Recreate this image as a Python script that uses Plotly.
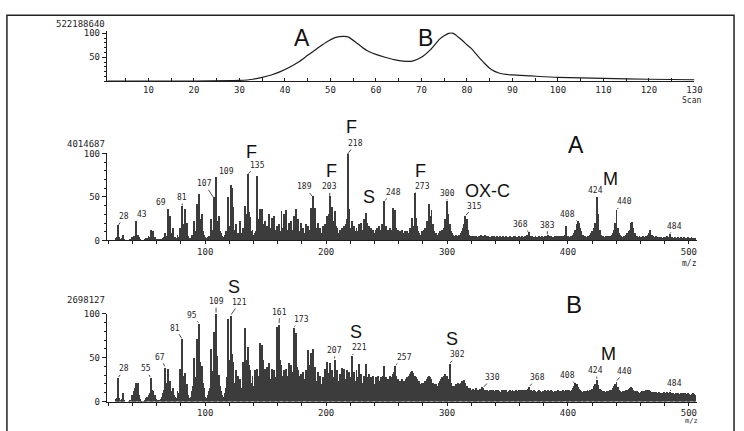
import plotly.graph_objects as go

W, H = 744, 431

# ---------------- data ----------------
# Total ion chromatogram (relative %, scan number)
TIC_SCAN = [1, 10, 20, 28, 30, 33, 35, 37, 39, 41, 43, 45, 47, 49, 51, 52, 53, 54, 56, 58,
            60, 62, 64, 66, 68, 70, 72, 74, 75, 76, 77, 78, 79, 80, 81, 82, 83, 84, 85, 86,
            87, 88, 90, 94, 100, 110, 120, 130]
TIC_REL = [0, 0, 0.3, 1, 1.5, 4, 8, 13, 20, 29, 40, 54, 68, 81, 91, 93, 93.5, 92, 78, 64,
           56, 50, 45, 42, 42, 50, 66, 88, 95, 100, 100, 93, 85, 76, 68, 57, 46, 36, 27, 21,
           17, 15, 13, 11, 8, 6, 4, 3]

MZ_FIRST = 20  # first m/z of the intensity lists below (unit steps)

# Spectrum A (relative intensity, m/z 20 ... 505)
SPEC_A = [
    0, 0, 0, 0, 0, 0, 2, 3, 17, 3,        # 20
    1, 2, 6, 1, 0, 0, 0, 0, 1, 3,         # 30
    2, 5, 4, 22, 6, 3, 1, 0, 0, 0,        # 40
    1, 2, 2, 4, 3, 11, 6, 10, 3, 1,       # 50
    1, 1, 1, 1, 1, 2, 3, 8, 5, 36,        # 60
    9, 27, 8, 14, 3, 3, 2, 6, 3, 14,      # 70
    6, 39, 18, 36, 10, 20, 5, 2, 1, 6,    # 80
    3, 22, 10, 41, 12, 53, 24, 30, 10, 6, # 90
    3, 2, 3, 5, 4, 24, 12, 49, 48, 72,    # 100
    22, 28, 10, 8, 5, 3, 6, 10, 8, 49,    # 110
    16, 63, 60, 38, 12, 18, 6, 8, 5, 22,  # 120
    8, 14, 10, 39, 30, 76, 32, 26, 10, 12,   # 130
    6, 8, 10, 74, 24, 36, 30, 36, 18, 22,    # 140
    12, 16, 10, 30, 14, 25, 10, 28, 12, 16,  # 150
    10, 18, 10, 33, 14, 30, 12, 34, 12, 20,  # 160
    10, 22, 12, 28, 12, 36, 14, 24, 10, 20,  # 170
    8, 14, 8, 18, 10, 16, 12, 37, 24, 50,    # 180
    18, 37, 14, 20, 10, 14, 8, 16, 12, 18,   # 190
    10, 28, 30, 50, 26, 38, 22, 33, 16, 14,  # 200
    8, 12, 8, 14, 10, 16, 18, 24, 100, 36,   # 210
    14, 22, 12, 16, 10, 14, 10, 18, 12, 20,  # 220
    12, 24, 16, 31, 20, 16, 10, 14, 8, 12,   # 230
    8, 12, 14, 10, 16, 12, 18, 14, 45, 16,   # 240
    10, 12, 8, 14, 12, 37, 16, 35, 14, 12,   # 250
    8, 10, 6, 12, 8, 10, 6, 10, 8, 14,       # 260
    10, 25, 16, 54, 25, 16, 10, 8, 6, 10,    # 270
    8, 12, 14, 22, 18, 41, 28, 35, 18, 10,   # 280
    6, 8, 6, 8, 10, 8, 12, 14, 24, 18,       # 290
    45, 30, 18, 10, 8, 6, 5, 6, 4, 5,        # 300
    6, 8, 10, 14, 18, 28, 24, 12, 6, 5,      # 310
    4, 4, 5, 4, 4, 3, 4, 5, 6, 5,            # 320
    4, 6, 4, 3, 4, 3, 3, 4, 3, 4,            # 330
    3, 4, 3, 3, 4, 3, 4, 3, 3, 4,            # 340
    3, 3, 4, 3, 3, 4, 5, 3, 3, 4,            # 350
    3, 3, 4, 3, 4, 5, 6, 4, 9, 5,            # 360
    4, 3, 3, 4, 3, 3, 4, 3, 4, 3,            # 370
    3, 4, 4, 6, 4, 3, 4, 3, 3, 4,            # 380
    3, 4, 5, 4, 3, 4, 5, 6, 16, 5,           # 390
    4, 3, 4, 5, 6, 8, 12, 18, 22, 20,        # 400
    14, 10, 6, 5, 4, 3, 4, 5, 6, 8,          # 410
    10, 14, 19, 14, 49, 30, 12, 6, 5, 4,     # 420
    3, 4, 3, 4, 5, 4, 6, 8, 12, 19,          # 430
    35, 14, 8, 6, 4, 3, 4, 5, 6, 8,          # 440
    10, 12, 20, 21, 14, 8, 5, 4, 3, 4,       # 450
    3, 3, 4, 3, 4, 5, 6, 8, 12, 6,           # 460
    4, 3, 3, 4, 3, 2, 3, 3, 2, 3,            # 470
    2, 3, 4, 3, 7, 3, 3, 2, 3, 2,            # 480
    2, 3, 2, 3, 2, 2, 3, 2, 2, 3,            # 490
    2, 2, 3, 2, 2, 2,                        # 500
]

# Spectrum B (relative intensity, m/z 20 ... 505)
SPEC_B = [
    0, 0, 0, 0, 0, 0, 3, 5, 27, 4,           # 20
    2, 3, 10, 2, 0, 0, 0, 1, 2, 8,           # 30
    5, 12, 16, 22, 21, 8, 3, 1, 1, 1,        # 40
    2, 4, 6, 8, 10, 27, 14, 12, 8, 3,        # 50
    2, 1, 2, 3, 6, 10, 14, 39, 22, 38,       # 60
    20, 24, 12, 16, 8, 6, 5, 12, 10, 37,     # 70
    14, 71, 30, 33, 16, 20, 8, 4, 6, 12,     # 80
    18, 50, 28, 72, 36, 89, 45, 41, 22, 16,  # 90
    6, 5, 8, 12, 16, 60, 35, 79, 52, 100,    # 100
    52, 31, 18, 12, 8, 6, 10, 16, 28, 94,    # 110
    48, 98, 55, 45, 22, 36, 20, 30, 18, 26,  # 120
    16, 45, 40, 84, 48, 63, 42, 36, 22, 30,  # 130
    18, 36, 24, 38, 30, 67, 46, 65, 48, 38,  # 140
    24, 40, 30, 44, 26, 38, 32, 36, 28, 85,  # 150
    40, 88, 48, 42, 30, 36, 24, 38, 30, 44,  # 160
    28, 42, 34, 84, 52, 78, 40, 36, 30, 32,  # 170
    24, 34, 26, 36, 30, 59, 42, 56, 38, 60,  # 180
    28, 40, 24, 34, 22, 30, 20, 28, 24, 38,  # 190
    26, 45, 33, 44, 30, 36, 28, 48, 34, 36,  # 200
    24, 32, 28, 39, 30, 38, 26, 36, 30, 34,  # 210
    28, 52, 30, 34, 24, 36, 28, 43, 26, 32,  # 220
    22, 30, 26, 43, 28, 32, 24, 28, 22, 30,  # 230
    20, 28, 22, 30, 24, 28, 26, 30, 41, 28,  # 240
    22, 26, 24, 30, 28, 32, 34, 41, 30, 26,  # 250
    20, 24, 22, 26, 24, 22, 26, 28, 30, 32,  # 260
    34, 35, 33, 30, 28, 26, 22, 24, 20, 22,  # 270
    20, 22, 24, 26, 28, 29, 28, 26, 22, 20,  # 280
    18, 20, 18, 22, 24, 26, 28, 30, 32, 28,  # 290
    30, 26, 43, 22, 18, 16, 18, 20, 18, 22,  # 300
    20, 22, 24, 20, 25, 22, 18, 16, 14, 16,  # 310
    14, 15, 13, 14, 16, 14, 13, 15, 14, 17,  # 320
    16, 14, 13, 14, 12, 13, 14, 12, 13, 12,  # 330
    13, 12, 14, 12, 11, 13, 12, 14, 12, 13,  # 340
    11, 12, 13, 12, 14, 12, 11, 13, 12, 14,  # 350
    12, 13, 12, 14, 13, 12, 14, 15, 17, 13,  # 360
    12, 11, 13, 12, 11, 12, 13, 12, 11, 12,  # 370
    12, 13, 12, 14, 12, 11, 13, 12, 11, 12,  # 380
    11, 12, 13, 12, 11, 12, 13, 12, 14, 13,  # 390
    12, 13, 12, 14, 16, 18, 21, 20, 17, 15,  # 400
    13, 12, 11, 12, 11, 12, 13, 12, 14, 13,  # 410
    15, 18, 20, 17, 25, 19, 15, 13, 12, 11,  # 420
    12, 11, 12, 11, 12, 13, 14, 16, 18, 20,  # 430
    23, 17, 14, 12, 11, 12, 11, 12, 13, 14,  # 440
    15, 16, 17, 16, 14, 12, 11, 12, 11, 10,  # 450
    11, 12, 11, 12, 13, 12, 14, 13, 12, 11,  # 460
    10, 11, 10, 11, 10, 11, 10, 9, 10, 11,   # 470
    10, 9, 11, 10, 11, 10, 9, 10, 9, 10,     # 480
    9, 10, 9, 10, 9, 10, 9, 10, 9, 10,       # 490
    9, 8, 9, 10, 9, 8,                       # 500
]

LABELS_A = [28, 43, 69, 81, 107, 109, 135, 189, 203, 218, 248, 273, 300, 315, 368, 383, 408, 424, 440, 484]
LABELS_B = [28, 55, 67, 81, 95, 109, 121, 161, 173, 207, 221, 257, 302, 330, 368, 408, 424, 440, 484]

ABS_TIC = "522188640"
ABS_A = "4014687"
ABS_B = "2698127"

# ---------------- layout helpers (pixel -> paper) ----------------
def px(x):
    return x / W

def py(y):
    return 1 - y / H

MZ = [MZ_FIRST + i for i in range(len(SPEC_A))]

MONO = "DejaVu Sans Mono"
SANS = "Liberation Sans"
INK = "#1e1e1e"
BAR = "#3c3c3c"

fig = go.Figure()

fig.add_trace(go.Scatter(x=TIC_SCAN, y=TIC_REL, mode="lines", line=dict(color=INK, width=1.2, shape="spline", smoothing=0.6),
                         xaxis="x", yaxis="y", hoverinfo="skip"))
fig.add_trace(go.Bar(x=MZ, y=SPEC_A, width=0.8, marker=dict(color=BAR, line=dict(width=0)), xaxis="x2", yaxis="y2"))
fig.add_trace(go.Bar(x=MZ, y=SPEC_B, width=0.8, marker=dict(color=BAR, line=dict(width=0)), xaxis="x3", yaxis="y3"))

tickfont = dict(family=MONO, size=9, color=INK)

mz_ticks = list(range(20, 501, 20))
mz_text = [str(v) if v % 100 == 0 else "" for v in mz_ticks]
scan_ticks = list(range(5, 131, 5))
scan_text = [str(v) if v % 10 == 0 else "" for v in scan_ticks]

def xax(domain, rng, anchor, tv, tt, ticks="outside"):
    return dict(domain=domain, range=rng, anchor=anchor, showgrid=False, zeroline=False,
                showline=True, linecolor=INK, linewidth=1, ticks=ticks, ticklen=3, tickwidth=1,
                tickcolor=INK, tickvals=tv, ticktext=tt, tickfont=tickfont, fixedrange=True)

def yax(domain, rng, anchor, tv, tt):
    return dict(domain=domain, range=rng, anchor=anchor, showgrid=False, zeroline=False,
                showline=True, linecolor=INK, linewidth=1, ticks="outside", ticklen=4, tickwidth=1,
                tickcolor=INK, tickvals=tv, ticktext=tt, tickfont=tickfont,
                minor=dict(dtick=10, ticklen=2, ticks="outside", tickcolor=INK), fixedrange=True)

mz_lo = 100 + (108 - 207.4) / 1.2225
mz_hi = 100 + (705 - 207.4) / 1.2225

fig.update_layout(
    width=W, height=H, margin=dict(l=0, r=0, t=0, b=0), autosize=False,
    paper_bgcolor="white", plot_bgcolor="rgba(0,0,0,0)", showlegend=False, bargap=0,
    xaxis=xax([px(108), px(702)], [0.87, 130], "y", scan_ticks, scan_text, ticks="inside"),
    yaxis=yax([py(78), py(78 - 49 * 1.04)], [0, 104], "x", [50, 100], ["50", "100"]),
    xaxis2=xax([px(108), px(705)], [mz_lo, mz_hi], "y2", mz_ticks, mz_text),
    yaxis2=yax([py(241), py(152)], [0, 100], "x2", [0, 50, 100], ["0", "50", "100"]),
    xaxis3=xax([px(108), px(705)], [mz_lo, mz_hi], "y3", mz_ticks, mz_text),
    yaxis3=yax([py(406), py(316)], [0, 100], "x3", [0, 50, 100], ["0", "50", "100"]),
)

ann = []
# absolute intensity scale values
for t, y in [(ABS_TIC, 19), (ABS_A, 142), (ABS_B, 302)]:
    ann.append(dict(text=t, x=px(108), y=py(y), xref="paper", yref="paper", xanchor="right", yanchor="middle",
                    showarrow=False, font=dict(family=MONO, size=9, color=INK)))
# axis units
ann.append(dict(text="Scan", x=px(699), y=py(98), xref="paper", yref="paper", xanchor="center", yanchor="middle",
                showarrow=False, font=dict(family=MONO, size=8, color=INK)))
ann.append(dict(text="m/z", x=px(697), y=py(265), xref="paper", yref="paper", xanchor="center", yanchor="middle",
                showarrow=False, font=dict(family=MONO, size=8, color=INK)))
ann.append(dict(text="m/z", x=px(699), y=py(431), xref="paper", yref="paper", xanchor="center", yanchor="bottom",
                showarrow=False, borderpad=0, font=dict(family=MONO, size=7, color=INK)))
# big letters
for t, x, y, s in [("A", 305, 34, 23), ("B", 430, 34, 23),
                   ("F", 254, 150, 18), ("F", 355, 125, 18), ("F", 335, 170, 18), ("S", 373, 197, 18),
                   ("F", 425, 170, 18), ("OX-C", 493, 190, 18), ("A", 582, 143, 23), ("M", 617, 178, 18),
                   ("S", 237, 289, 18), ("S", 360, 335, 18), ("S", 457, 342, 18), ("B", 580, 307, 24),
                   ("M", 615, 357, 18)]:
    ann.append(dict(text=t, x=px(x), y=py(y), xref="paper", yref="paper", xanchor="center", yanchor="middle",
                    showarrow=False, font=dict(family=SANS, size=s, color="#111")))

OFF_A = [(6, -9), (6, -7), (-7, -7), (0, -9), (-9, -14), (10, -6), (10, -9), (-8, -10), (0, -10), (8, -10),
         (9, -9), (8, -7), (0, -8), (9, -10), (-9, -8), (0, -10), (-10, -7), (-1, -7), (8, -8), (5, -8)]
OFF_B = [(6, -9), (-5, -9), (-5, -10), (-7, -11), (-7, -8), (0, -12), (9, -13), (1, -12), (8, -8), (0, -9),
         (8, -8), (9, -8), (8, -9), (9, -10), (8, -9), (-10, -11), (-1, -9), (8, -10), (5, -8)]

for labels, spec, offs, xr, yr in [(LABELS_A, SPEC_A, OFF_A, "x2", "y2"), (LABELS_B, SPEC_B, OFF_B, "x3", "y3")]:
    for m, (dx, dy) in zip(labels, offs):
        ann.append(dict(text=str(m), x=m, y=spec[m - MZ_FIRST], xref=xr, yref=yr, showarrow=True,
                        arrowhead=0, arrowwidth=0.8, arrowcolor=INK, ax=dx, ay=dy, standoff=1,
                        font=dict(family=MONO, size=8, color=INK)))

fig.update_layout(annotations=ann)

# outer frame
fig.add_shape(type="rect", xref="paper", yref="paper", x0=px(7), x1=px(742), y0=py(440), y1=py(10.5),
              line=dict(color="#222", width=1.5), fillcolor="rgba(0,0,0,0)")

fig.write_html("out.html")
